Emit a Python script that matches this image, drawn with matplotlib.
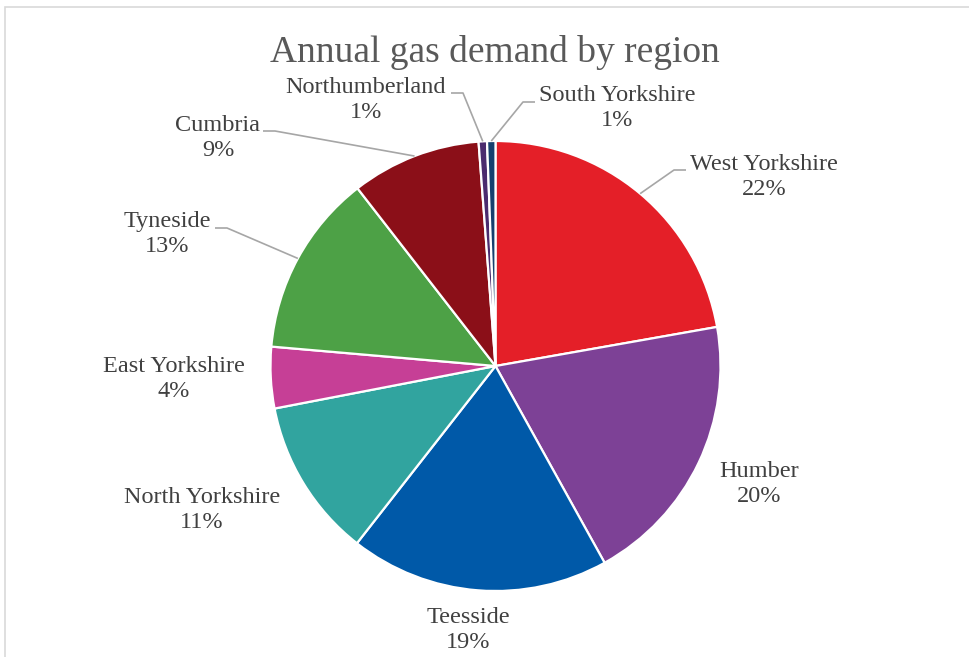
import matplotlib
matplotlib.use('Agg')

import matplotlib.pyplot as plt
from matplotlib.patches import Rectangle
import numpy as np

# regional shares of annual gas demand (%), clockwise from 12 o'clock
regions = ['West Yorkshire', 'Humber', 'Teesside', 'North Yorkshire',
           'East Yorkshire', 'Tyneside', 'Cumbria', 'Northumberland',
           'South Yorkshire']
shares = [22.2, 19.7, 18.6, 11.4, 4.4, 13.1, 9.3, 0.6, 0.6]
colors = ['#E41F28', '#7D4196', '#0059A8', '#31A49F', '#C63F96',
          '#4DA146', '#8B0F18', '#4B2B6E', '#17406E']

W, H = 970, 657
CX, CY, R = 495.5, 366, 225  # pie centre / radius in pixels

# label block centres (pixels, from top-left)
label_pos = {
    'West Yorkshire': (764, 177),
    'Humber': (759, 484),
    'Teesside': (468, 630),
    'North Yorkshire': (202, 510),
    'East Yorkshire': (174, 379),
    'Tyneside': (167, 234),
    'Cumbria': (218, 138),
    'Northumberland': (366, 100),
    'South Yorkshire': (617, 108),
}
# where the leader line leaves the label (pixels), and direction of the short tick
leader_start = {
    'West Yorkshire': ((686, 170), -1),
    'Tyneside': ((215, 228), 1),
    'Cumbria': ((263, 131), 1),
    'Northumberland': ((451, 93), 1),
    'South Yorkshire': ((535, 102), -1),
}

plt.rcParams['font.family'] = ['Liberation Serif', 'DejaVu Serif']

fig = plt.figure(figsize=(W / 100, H / 100), dpi=100)
fig.patch.set_facecolor('white')

# chart area border
fig.patches.append(Rectangle((5 / W, -0.1), 1.1, 1 - 7 / H + 0.1,
                             transform=fig.transFigure, fill=False,
                             edgecolor='#D9D9D9', linewidth=1.2))

ax = fig.add_axes([(CX - R) / W, 1 - (CY + R) / H, 2 * R / W, 2 * R / H])
wedges, _ = ax.pie(shares, colors=colors, startangle=90, counterclock=False,
                   radius=1, wedgeprops=dict(edgecolor='white', linewidth=1.6))
ax.set_xlim(-1, 1)
ax.set_ylim(-1, 1)
ax.axis('off')


def to_data(px, py):
    return (px - CX) / R, (CY - py) / R


total = sum(shares)
for name, val, w in zip(regions, shares, wedges):
    lx, ly = to_data(*label_pos[name])
    pct = round(val / total * 100)
    ax.text(lx, ly, f"{name}\n{pct}%", ha='center', va='center',
            fontsize=17.5, color='#404040', linespacing=1.3, clip_on=False)
    if name in leader_start:
        (sx, sy), d = leader_start[name]
        mid = np.deg2rad((w.theta1 + w.theta2) / 2)
        ex, ey = np.cos(mid), np.sin(mid)
        x0, y0 = to_data(sx, sy)
        x1, y1 = to_data(sx + d * 12, sy)
        ax.plot([x0, x1, ex], [y0, y1, ey], color='#A6A6A6', lw=1.2,
                clip_on=False, solid_capstyle='butt')

fig.text(495 / W, 1 - 52 / H, 'Annual gas demand by region', ha='center',
         va='center', fontsize=27, color='#595959')

fig.savefig('out.png', dpi=100)
plt.close(fig)
